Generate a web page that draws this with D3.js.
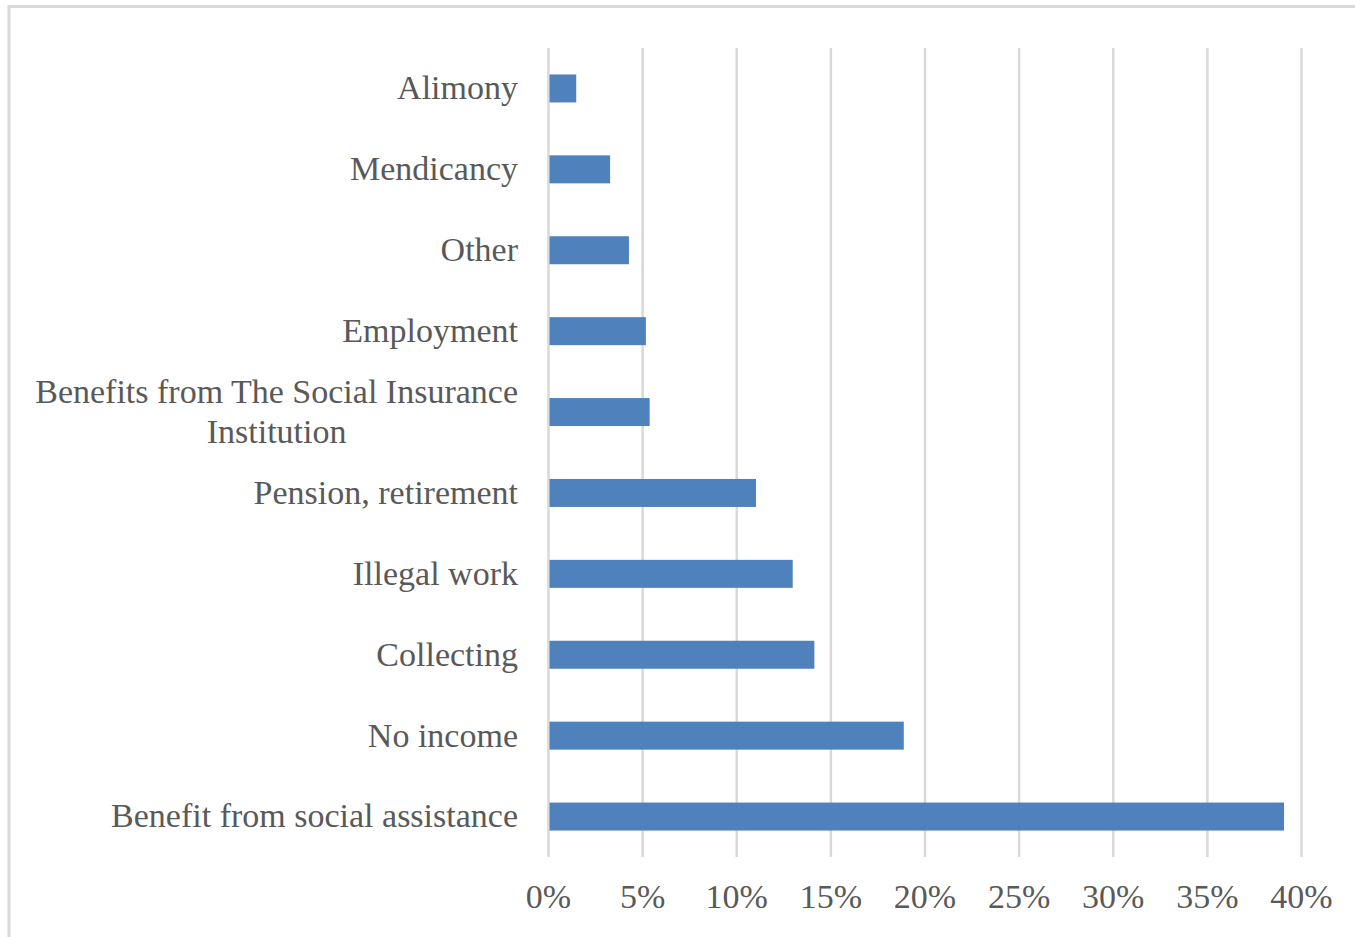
<!DOCTYPE html>
<html>
<head>
<meta charset="utf-8">
<script src="https://cdn.jsdelivr.net/npm/d3@7"></script>
<style>
  html, body { margin: 0; padding: 0; background: #fff; }
  svg { display: block; }
</style>
</head>
<body>
<svg id="chart" width="1355" height="937"></svg>
<script>
// ---- data ----
const categories = [
  "Alimony",
  "Mendicancy",
  "Other",
  "Employment",
  "Benefits from The Social Insurance Institution",
  "Pension, retirement",
  "Illegal work",
  "Collecting",
  "No income",
  "Benefit from social assistance"
];
const values = [1.5, 3.3, 4.3, 5.2, 5.4, 11.05, 13.0, 14.15, 18.9, 39.1];
const tickValues = [0, 5, 10, 15, 20, 25, 30, 35, 40];
const tickLabels = ["0%", "5%", "10%", "15%", "20%", "25%", "30%", "35%", "40%"];
const labelLines = {
  "Benefits from The Social Insurance Institution": ["Benefits from The Social Insurance", "Institution"]
};

// ---- layout ----
const svg = d3.select("#chart");
const plot = { left: 548, right: 1301, top: 48, bottom: 857 };
const font = "'Liberation Serif', 'Times New Roman', serif";
const fontSize = 34;
const textColor = "#595959";
const gridColor = "#d9d9d9";

// frame
svg.append("path")
  .attr("d", `M9,937 L9,6.5 L1355,6.5`)
  .attr("fill", "none")
  .attr("stroke", gridColor)
  .attr("stroke-width", 3);

const x = d3.scaleLinear().domain([0, 40]).range([plot.left, plot.right]);
const y = d3.scaleBand().domain(categories).range([plot.top, plot.bottom])
  .paddingInner(0.654).paddingOuter(0.327);

// x axis with gridlines
const xAxis = d3.axisBottom(x)
  .tickValues(tickValues)
  .tickFormat((d, i) => tickLabels[i])
  .tickSize(-(plot.bottom - plot.top))
  .tickPadding(27);

const gx = svg.append("g")
  .attr("transform", `translate(0,${plot.bottom})`)
  .call(xAxis);
gx.select(".domain").remove();
gx.selectAll(".tick line")
  .attr("stroke", gridColor)
  .attr("stroke-width", 2.5);
gx.selectAll(".tick text")
  .attr("fill", textColor)
  .style("font-family", font)
  .style("font-size", fontSize + "px");

// bars
svg.append("g").selectAll("rect")
  .data(categories)
  .join("rect")
  .attr("x", x(0) + 1.5)
  .attr("y", d => y(d))
  .attr("width", (d, i) => x(values[i]) - x(0) - 1.5)
  .attr("height", y.bandwidth())
  .attr("fill", "#4f81bd");

// y axis labels
const yAxis = d3.axisLeft(y).tickSize(0).tickPadding(30);
const gy = svg.append("g")
  .attr("transform", `translate(${plot.left},0)`)
  .call(yAxis);
gy.select(".domain").remove();
gy.selectAll(".tick text")
  .attr("fill", textColor)
  .style("font-family", font)
  .style("font-size", fontSize + "px")
  .each(function (d) {
    const lines = labelLines[d];
    if (!lines) return;
    const t = d3.select(this);
    t.text(null);
    const tsp = lines.map((ln, k) => t.append("tspan").text(ln));
    const widths = tsp.map(s => s.node().getComputedTextLength());
    const maxW = Math.max(...widths);
    const cx = -30 - maxW / 2;
    t.attr("text-anchor", "middle").attr("dy", null);
    const lh = 40;
    tsp.forEach((s, k) => {
      s.attr("x", cx).attr("y", -9 + k * lh);
    });
  });
</script>
</body>
</html>
